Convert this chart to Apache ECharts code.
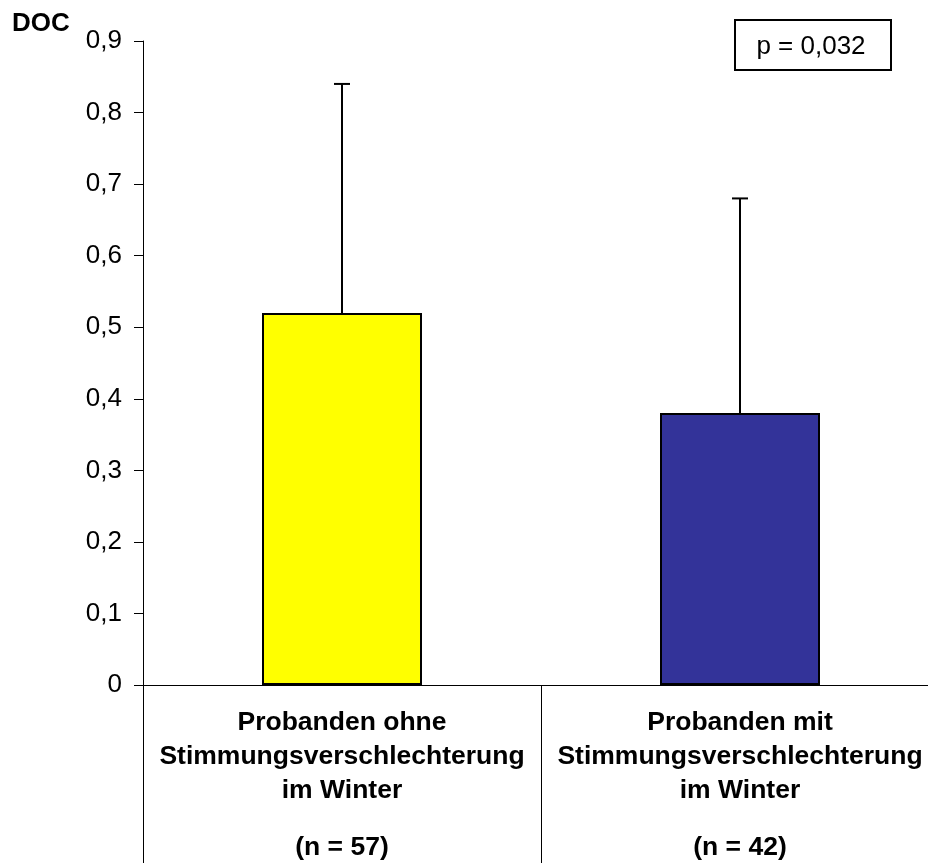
<!DOCTYPE html>
<html>
<head>
<meta charset="utf-8">
<script src="https://cdn.jsdelivr.net/npm/echarts@6/dist/echarts.min.js"></script>
<style>
html,body{margin:0;padding:0;background:#fff;overflow:hidden;width:928px;height:863px;}
#chart{width:939px;height:863px;}
</style>
</head>
<body>
<div id="chart"></div>
<script>
const categoryTitles = ["Probanden ohne|Stimmungsverschlechterung|im Winter", "Probanden mit|Stimmungsverschlechterung|im Winter"];
const groupSizes = ["(n = 57)", "(n = 42)"];
const meanValues = [0.52, 0.38];
const upperErrorValues = [0.84, 0.68];
const barColors = ["#FFFF00", "#333399"];
const yAxisTitle = "DOC";
const pValueText = "p = 0,032";

const categories = categoryTitles.map((t, i) => t + "#" + groupSizes[i]);
const FONT = "'Liberation Sans', Arial, sans-serif";

const chart = echarts.init(document.getElementById('chart'), null, {renderer: 'canvas'});
chart.setOption({
  animation: false,
  backgroundColor: '#ffffff',
  grid: {left: 143, top: 41, bottom: 178, right: 0, containLabel: false},
  xAxis: {
    type: 'category',
    data: categories,
    axisLine: {show: true, lineStyle: {color: '#000', width: 1}},
    axisTick: {show: true, alignWithLabel: false, length: 185, lineStyle: {color: '#000', width: 1}},
    axisLabel: {
      margin: 21,
      interval: 0,
      formatter: function (v) {
        const parts = v.split('#');
        const lines = parts[0].split('|').map(s => '{a|' + s + '}');
        lines.push('{n|' + parts[1] + '}');
        return lines.join('\n');
      },
      rich: {
        a: {fontFamily: FONT, fontWeight: 'bold', fontSize: 26.5, lineHeight: 34, color: '#000', align: 'center'},
        n: {fontFamily: FONT, fontWeight: 'bold', fontSize: 26.5, lineHeight: 80, color: '#000', align: 'center'}
      }
    },
    splitLine: {show: false}
  },
  yAxis: {
    type: 'value',
    min: 0,
    max: 0.9,
    interval: 0.1,
    axisLine: {show: true, lineStyle: {color: '#000', width: 1}},
    axisTick: {show: true, length: 9, lineStyle: {color: '#000', width: 1}},
    axisLabel: {
      margin: 21,
      fontFamily: FONT,
      fontSize: 26,
      color: '#000',
      formatter: function (v) { return v === 0 ? '0' : v.toFixed(1).replace('.', ','); }
    },
    splitLine: {show: false}
  },
  series: [
    {
      type: 'bar',
      data: meanValues.map((v, i) => ({value: v, itemStyle: {color: barColors[i]}})),
      barWidth: 160,
      itemStyle: {borderColor: '#000', borderWidth: 2},
      z: 2
    },
    {
      type: 'custom',
      z: 3,
      data: meanValues.map((v, i) => [i, v, upperErrorValues[i]]),
      renderItem: function (params, api) {
        const base = api.coord([api.value(0), api.value(1)]);
        const top = api.coord([api.value(0), api.value(2)]);
        const cap = 8;
        return {
          type: 'group',
          children: [
            {type: 'line', shape: {x1: base[0], y1: base[1], x2: top[0], y2: top[1]}, style: {stroke: '#000', lineWidth: 2}},
            {type: 'line', shape: {x1: top[0] - cap, y1: top[1], x2: top[0] + cap, y2: top[1]}, style: {stroke: '#000', lineWidth: 2}}
          ]
        };
      }
    }
  ],
  graphic: [
    {
      type: 'text',
      left: 12,
      top: 11,
      style: {text: yAxisTitle, fontFamily: FONT, fontWeight: 'bold', fontSize: 26, fill: '#000'}
    },
    {
      type: 'rect',
      shape: {x: 735, y: 20, width: 156, height: 50},
      style: {fill: '#fff', stroke: '#000', lineWidth: 2}
    },
    {
      type: 'text',
      x: 811,
      y: 47,
      style: {text: pValueText, fontFamily: FONT, fontSize: 26, fill: '#000', align: 'center', verticalAlign: 'middle'}
    }
  ]
});
</script>
</body>
</html>
